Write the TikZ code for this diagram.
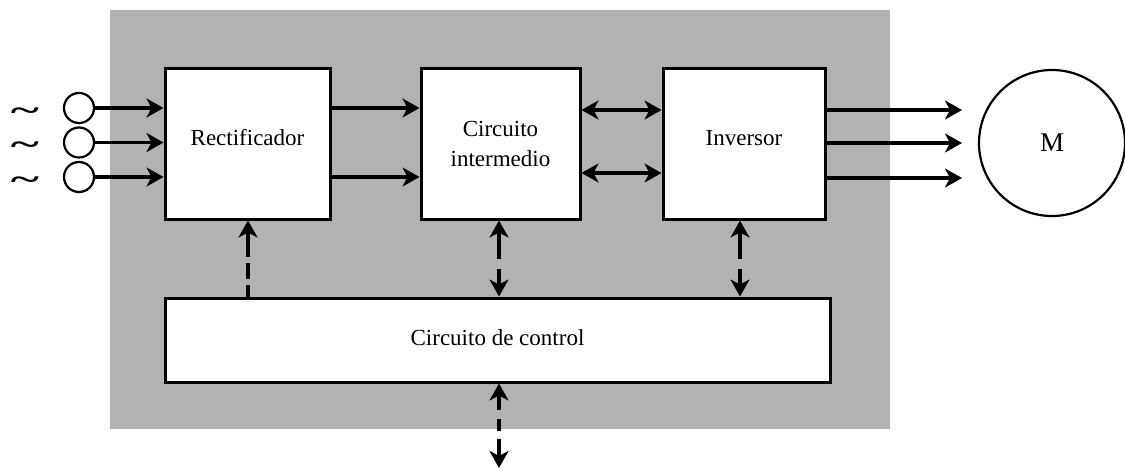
\documentclass[tikz,border=0pt]{standalone}
\usepackage{fontspec}
\setmainfont{Liberation Serif}
\usetikzlibrary{arrows.meta}
\begin{document}
\begin{tikzpicture}[x=1pt,y=-1pt,
  tip/.tip={Stealth[length=17pt,width=19pt,inset=5pt]},
  blk/.style={draw=black,line width=3pt,fill=white,inner sep=0pt,font=\fontsize{23}{30}\selectfont,align=center},
  con/.style={line width=3.6pt,-tip},
  bicon/.style={line width=3.6pt,tip-tip},
  term/.style={draw=black,line width=2.2pt,circle,minimum size=30pt,inner sep=0pt,fill=white},
  tilde/.style={font=\fontsize{30}{30}\selectfont\bfseries,inner sep=0pt}]
\useasboundingbox (0,0) rectangle (1125,472);
\fill[black!30] (110,10) rectangle (890,429);
\node[blk,minimum width=165pt,minimum height=151pt] (rect) at (247.5,143.5) {\raisebox{12pt}{Rectificador}};
\node[blk,minimum width=159pt,minimum height=151pt] (dc) at (500.5,143.5) {Circuito\\intermedio};
\node[blk,minimum width=162pt,minimum height=151pt] (inv) at (744,143.5) {\raisebox{12pt}{Inversor}};
\node[blk,minimum width=665pt,minimum height=84pt] (ctl) at (497.5,340) {\raisebox{5pt}{Circuito de control}};
\node[draw=black,line width=2.2pt,circle,minimum size=146pt,inner sep=0pt,font=\fontsize{27}{30}\selectfont] (mot) at (1052,143) {\raisebox{-5pt}{M}};
\foreach \i/\y in {1/108,2/142.5,3/177}{
  \node[term] (t\i) at (79,\y) {};
  \node[tilde,anchor=base] (s\i) at (25,\y+12) {\scalebox{1.8}[1]{\textasciitilde}};
  \draw[con] (t\i.east) -- (t\i.east -| rect.west);
}
\coordinate (a1) at (330,108); \coordinate (a2) at (330,177);
\draw[con] (a1) -- (a1 -| dc.west);
\draw[con] (a2) -- (a2 -| dc.west);
\coordinate (b1) at (580,110); \coordinate (b2) at (580,173);
\draw[bicon] (b1 -| dc.east) -- (b1 -| inv.west);
\draw[bicon] (b2 -| dc.east) -- (b2 -| inv.west);
\foreach \y in {110,143,178}{
  \coordinate (o) at (825,\y);
  \draw[con] (o -| inv.east) -- (962,\y) coordinate (oe);
}
\coordinate (v1) at (248,0);
\draw[con,dash pattern=on 12pt off 6pt on 16pt off 6pt on 30pt] (v1 |- ctl.north) -- (v1 |- rect.south);
\coordinate (v2) at (499,0);
\draw[bicon,dash pattern=on 16pt off 10pt on 40pt] (v2 |- ctl.north) -- (v2 |- dc.south);
\coordinate (v3) at (740,0);
\draw[bicon,dash pattern=on 16pt off 10pt on 40pt] (v3 |- ctl.north) -- (v3 |- inv.south);
\coordinate (ext) at (499,468);
\draw[bicon,dash pattern=on 15pt off 9pt on 12pt off 8pt on 30pt] (v2 |- ctl.south) -- (ext);
\end{tikzpicture}
\end{document}
